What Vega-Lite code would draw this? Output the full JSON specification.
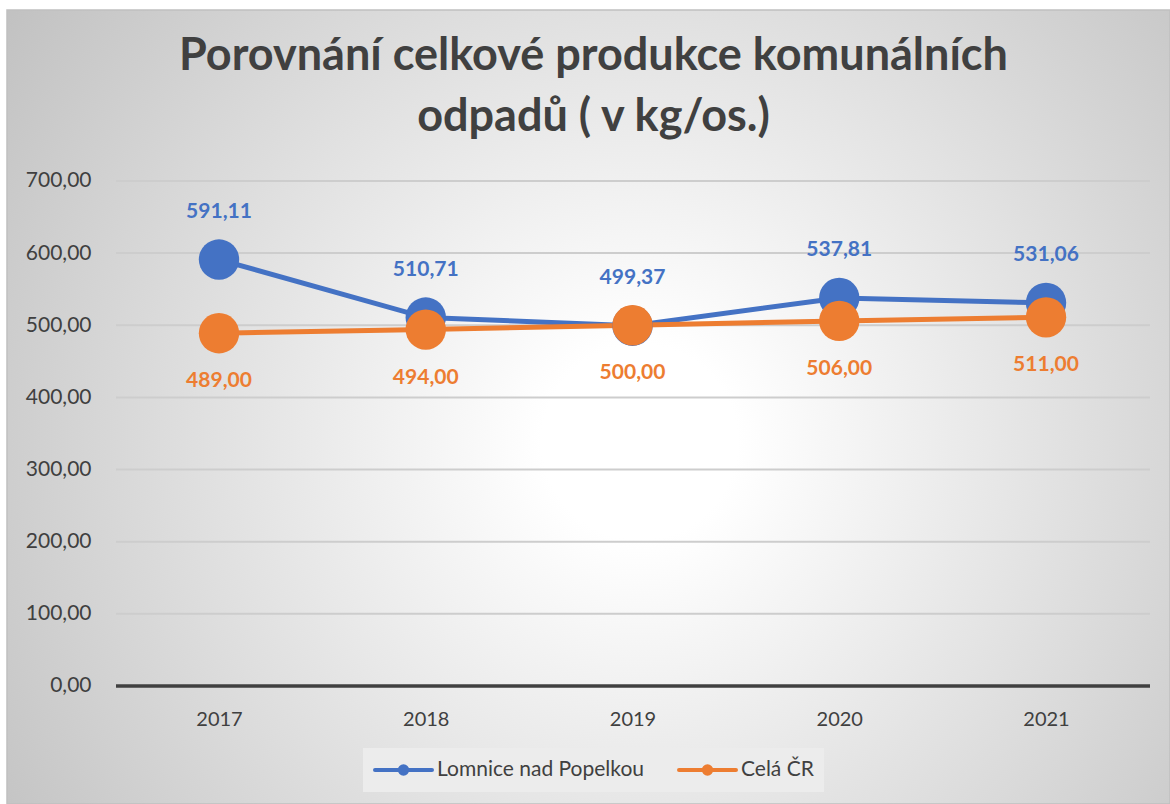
{
  "$schema": "https://vega.github.io/schema/vega-lite/v6.json",
  "width": 1163,
  "height": 794,
  "autosize": {"type": "none"},
  "padding": {"left": 7, "top": 10, "right": 0, "bottom": 0},
  "background": "#ffffff",
  "config": {
    "locale": {"number": {"decimal": ",", "thousands": " ", "grouping": [3], "currency": ["", " Kč"]}},
    "font": "Lato",
    "view": {
      "fill": {
        "gradient": "radial",
        "x1": 0.544, "y1": 0.53, "r1": 0,
        "x2": 0.544, "y2": 0.53, "r2": 0.7,
        "stops": [
          {"offset": 0, "color": "#ffffff"},
          {"offset": 0.12, "color": "#ffffff"},
          {"offset": 1, "color": "#bdbdbd"}
        ]
      },
      "stroke": "#c0c0c0",
      "strokeWidth": 1.5
    }
  },
  "title": {
    "text": ["Porovnání celkové produkce komunálních", "odpadů ( v kg/os.)"],
    "font": "Lato",
    "fontSize": 45,
    "fontWeight": "bold",
    "color": "#404040",
    "anchor": "middle",
    "frame": "group",
    "baseline": "alphabetic",
    "offset": 0,
    "dy": 166,
    "dx": 5,
    "lineHeight": 61
  },
  "datasets": {
    "series": [
      {"year": "2017", "series": "Lomnice nad Popelkou", "value": 591.11},
      {"year": "2018", "series": "Lomnice nad Popelkou", "value": 510.71},
      {"year": "2019", "series": "Lomnice nad Popelkou", "value": 499.37},
      {"year": "2020", "series": "Lomnice nad Popelkou", "value": 537.81},
      {"year": "2021", "series": "Lomnice nad Popelkou", "value": 531.06},
      {"year": "2017", "series": "Celá ČR", "value": 489.0},
      {"year": "2018", "series": "Celá ČR", "value": 494.0},
      {"year": "2019", "series": "Celá ČR", "value": 500.0},
      {"year": "2020", "series": "Celá ČR", "value": 506.0},
      {"year": "2021", "series": "Celá ČR", "value": 511.0}
    ],
    "grid": [
      {"v": 0}, {"v": 100}, {"v": 200}, {"v": 300}, {"v": 400}, {"v": 500}, {"v": 600}, {"v": 700}
    ]
  },
  "resolve": {"scale": {"x": "independent"}, "axis": {"x": "independent"}},
  "layer": [
    {
      "data": {"name": "grid"},
      "mark": {"type": "rule"},
      "encoding": {
        "y": {
          "field": "v",
          "type": "quantitative",
          "scale": {"domain": [-163.6, 937], "nice": false, "zero": false},
          "axis": {
            "values": [0, 100, 200, 300, 400, 500, 600, 700],
            "format": ".2f",
            "title": null,
            "grid": false,
            "domain": false,
            "ticks": false,
            "tickSize": 0,
            "labelPadding": 0,
            "offset": -84,
            "labelFontSize": 21,
            "labelColor": "#404040",
            "labelFont": "Lato"
          }
        },
        "x": {"datum": 0, "type": "quantitative", "scale": {"domain": [-0.10542, 1.01934], "nice": false, "zero": false}, "axis": null},
        "x2": {"datum": 1},
        "color": {"condition": {"test": "datum.v === 0", "value": "#404040"}, "value": "#cdcdcd"},
        "strokeWidth": {"condition": {"test": "datum.v === 0", "value": 3.5}, "value": 2}
      }
    },
    {
      "data": {"name": "series"},
      "encoding": {
        "x": {
          "field": "year",
          "type": "ordinal",
          "scale": {"type": "point", "padding": 0.8125, "align": 0.631},
          "axis": {
            "title": null,
            "domain": false,
            "ticks": false,
            "tickSize": 0,
            "labelPadding": 23,
            "offset": -118,
            "labelFontSize": 20,
            "labelColor": "#404040",
            "labelFont": "Lato",
            "labelAngle": 0
          }
        },
        "y": {
          "field": "value",
          "type": "quantitative",
          "scale": {"domain": [-163.6, 937], "nice": false, "zero": false},
          "axis": {
            "values": [0, 100, 200, 300, 400, 500, 600, 700],
            "format": ".2f",
            "title": null,
            "grid": false,
            "domain": false,
            "ticks": false,
            "tickSize": 0,
            "labelPadding": 0,
            "offset": -84,
            "labelFontSize": 21,
            "labelColor": "#404040",
            "labelFont": "Lato"
          }
        }
      },
      "layer": [
        {
          "mark": {"type": "line", "strokeWidth": 5},
          "encoding": {
            "color": {
              "field": "series",
              "type": "nominal",
              "scale": {"domain": ["Lomnice nad Popelkou", "Celá ČR"], "range": ["#4472C4", "#ED7D31"]},
              "legend": {
                "title": null,
                "orient": "none",
                "legendX": 356,
                "legendY": 738,
                "direction": "horizontal",
                "fillColor": "#ececec",
                "padding": 10,
                "symbolType": "M-1,0H1M0.13,0A0.13,0.13,0,1,1,-0.13,0A0.13,0.13,0,1,1,0.13,0Z",
                "symbolSize": 3249,
                "symbolStrokeWidth": 4,
                "clipHeight": 24,
                "labelFontSize": 21,
                "labelFont": "Lato",
                "labelColor": "#404040",
                "labelOffset": 3,
                "labelLimit": 400,
                "columnPadding": 32,
                "encode": {
                  "symbols": {
                    "update": {
                      "fill": {"scale": "color", "field": "value"},
                      "stroke": {"scale": "color", "field": "value"},
                      "strokeCap": {"value": "round"},
                      "opacity": {"value": 1}
                    }
                  }
                }
              }
            }
          }
        },
        {
          "mark": {"type": "point", "filled": true, "size": 1630, "opacity": 1},
          "encoding": {
            "color": {"field": "series", "type": "nominal", "legend": null}
          }
        },
        {
          "transform": [{"filter": "datum.series === 'Lomnice nad Popelkou'"}],
          "mark": {"type": "text", "dy": -48, "fontSize": 21, "fontWeight": "bold", "font": "Lato", "color": "#4472C4"},
          "encoding": {"text": {"field": "value", "type": "quantitative", "format": ".2f"}}
        },
        {
          "transform": [{"filter": "datum.series === 'Celá ČR'"}],
          "mark": {"type": "text", "dy": 48, "fontSize": 21, "fontWeight": "bold", "font": "Lato", "color": "#ED7D31"},
          "encoding": {"text": {"field": "value", "type": "quantitative", "format": ".2f"}}
        }
      ]
    }
  ]
}
